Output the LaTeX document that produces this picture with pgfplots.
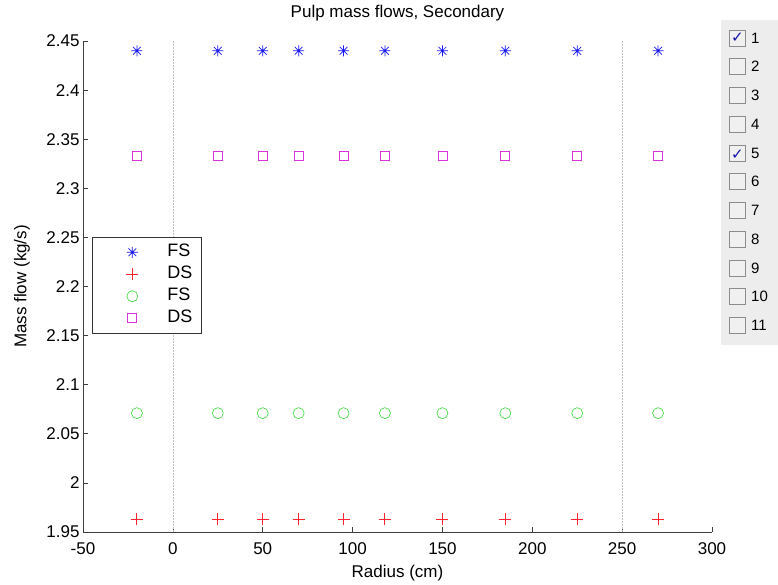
\documentclass[border=0pt]{standalone}
\usepackage{pgfplots}
\pgfplotsset{compat=1.18}
\usepackage{fontspec}
\setmainfont{Liberation Sans}
\newfontfamily\symfont{DejaVu Sans}
\definecolor{mblue}{rgb}{0.1,0.1,0.95}
\definecolor{mred}{rgb}{1,0.15,0.2}
\definecolor{mgreen}{rgb}{0.3,0.85,0.3}
\definecolor{mmag}{rgb}{0.85,0.2,0.85}
\definecolor{panel}{rgb}{0.93,0.93,0.93}
\pgfdeclareplotmark{mstar}{%
  \pgfpathmoveto{\pgfqpoint{0pt}{\pgfplotmarksize}}\pgfpathlineto{\pgfqpoint{0pt}{-\pgfplotmarksize}}%
  \pgfpathmoveto{\pgfqpoint{\pgfplotmarksize}{0pt}}\pgfpathlineto{\pgfqpoint{-\pgfplotmarksize}{0pt}}%
  \pgfpathmoveto{\pgfqpoint{.707\pgfplotmarksize}{.707\pgfplotmarksize}}\pgfpathlineto{\pgfqpoint{-.707\pgfplotmarksize}{-.707\pgfplotmarksize}}%
  \pgfpathmoveto{\pgfqpoint{-.707\pgfplotmarksize}{.707\pgfplotmarksize}}\pgfpathlineto{\pgfqpoint{.707\pgfplotmarksize}{-.707\pgfplotmarksize}}%
  \pgfusepathqstroke}
\begin{document}
\begin{tikzpicture}
\useasboundingbox (0pt,0pt) rectangle (778pt,585pt);
\begin{axis}[
  at={(83pt,53pt)}, anchor=south west, scale only axis,
  width=629pt, height=491pt,
  xmin=-50, xmax=300, ymin=1.95, ymax=2.45,
  axis x line*=bottom, axis y line*=left,
  axis line style={-, black!75, line width=0.7pt},
  xtick={-50,0,50,100,150,200,250,300},
  ytick={1.95,2,2.05,2.1,2.15,2.2,2.25,2.3,2.35,2.4,2.45},
  tick align=inside, major tick length=5pt,
  tick style={black!75, line width=0.7pt},
  /pgf/number format/assume math mode=true,
  yticklabel style={/pgf/number format/fixed, /pgf/number format/precision=2},
  ticklabel style={font=\fontsize{17}{20}\selectfont},
  xticklabel style={yshift=-7pt},
  title={Pulp mass flows, Secondary},
  title style={at={(axis description cs:0.5,1)}, anchor=center, inner sep=0pt, yshift=22pt, font=\fontsize{17}{20}\selectfont},
  xlabel={Radius (cm)},
  xlabel style={at={(axis description cs:0.5,-0.083)}, anchor=center, inner sep=0pt, font=\fontsize{17}{20}\selectfont},
  ylabel={Mass flow (kg/s)},
  ylabel style={at={(axis description cs:-0.097,0.5)}, anchor=center, inner sep=0pt, font=\fontsize{17}{20}\selectfont},
  clip=false,
  legend cell align=left,
  legend image code/.code={\path[draw=none] (0pt,0pt) -- (71pt,0pt); \draw[#1] plot coordinates {(38pt,0pt)};},
  legend style={at={(rel axis cs:0.0143,0.601)}, anchor=north west, draw=black!80, line width=0.7pt,
    font=\fontsize{18}{21}\selectfont, inner xsep=2pt, inner ysep=4pt, row sep=0pt,
    nodes={text height=12pt, text depth=4pt, inner ysep=3pt, inner xsep=2pt}},
]
\draw[black!25, densely dotted, line width=0.5pt] (axis cs:0,1.95) -- (axis cs:0,2.45);
\draw[black!25, densely dotted, line width=0.5pt] (axis cs:250,1.95) -- (axis cs:250,2.45);
\addplot[only marks, mark=mstar, mark size=5.5pt, mblue, line width=0.7pt] coordinates {
(-20,2.44) (25,2.44) (50,2.44) (70,2.44) (95,2.44) (118,2.44) (150,2.44) (185,2.44) (225,2.44) (270,2.44)};
\addlegendentry{FS\hspace*{5pt}}
\addplot[only marks, mark=+, mark size=6pt, mred, line width=1pt] coordinates {
(-20,1.963) (25,1.963) (50,1.963) (70,1.963) (95,1.963) (118,1.963) (150,1.963) (185,1.963) (225,1.963) (270,1.963)};
\addlegendentry{DS\hspace*{5pt}}
\addplot[only marks, mark=o, mark size=5.5pt, mgreen, line width=0.7pt] coordinates {
(-20,2.071) (25,2.071) (50,2.071) (70,2.071) (95,2.071) (118,2.071) (150,2.071) (185,2.071) (225,2.071) (270,2.071)};
\addlegendentry{FS\hspace*{5pt}}
\addplot[only marks, mark=square, mark size=4.5pt, mmag, line width=0.7pt] coordinates {
(-20,2.333) (25,2.333) (50,2.333) (70,2.333) (95,2.333) (118,2.333) (150,2.333) (185,2.333) (225,2.333) (270,2.333)};
\addlegendentry{DS\hspace*{5pt}}
\end{axis}
% checkbox panel
\fill[panel] (721pt,240pt) rectangle (778pt,565pt);
\foreach \i in {1,...,11} {
  \pgfmathsetmacro{\yc}{585-38-28.75*(\i-1)}
  \draw[black!45, fill=black!6, line width=0.8pt] (729pt,\yc pt-8pt) rectangle (745pt,\yc pt+8pt);
  \node[anchor=west, font=\fontsize{15}{18}\selectfont, inner sep=0pt] at (751pt,\yc pt) {\i};
}
\node[text=mblue!70!black, font=\symfont\fontsize{15}{18}\selectfont, inner sep=0pt] at (737.5pt,547pt) {✓};
\node[text=mblue!70!black, font=\symfont\fontsize{15}{18}\selectfont, inner sep=0pt] at (737.5pt,430.5pt) {✓};
\end{tikzpicture}
\end{document}
